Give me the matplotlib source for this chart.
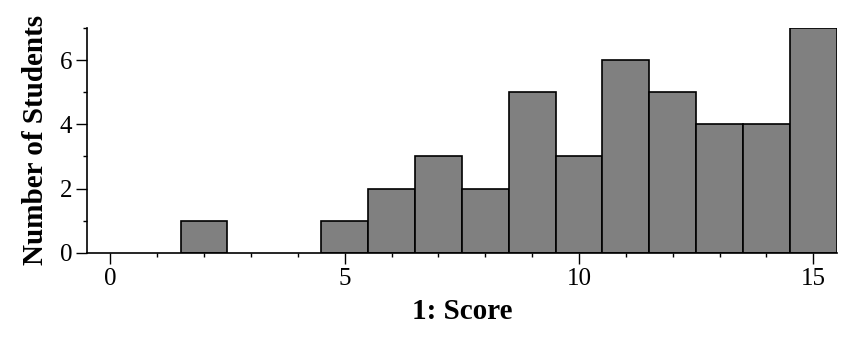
import matplotlib
matplotlib.use("Agg")
import matplotlib.pyplot as plt
from matplotlib.ticker import MultipleLocator

scores = list(range(16))
counts = [0, 0, 1, 0, 0, 1, 2, 3, 2, 5, 3, 6, 5, 4, 4, 7]
x_ticks = [0, 5, 10, 15]
y_ticks = [0, 2, 4, 6]

plt.rcParams['font.family'] = ['Liberation Serif', 'DejaVu Serif']

fig = plt.figure(figsize=(8.6, 3.4), dpi=100)
ax = fig.add_axes([0.101, 0.256, 0.872, 0.662])

xs = [s for s, c in zip(scores, counts) if c > 0]
hs = [c for c in counts if c > 0]
ax.bar(xs, hs, width=1.0, color='#808080', edgecolor='black', linewidth=1.2, zorder=2)

ax.set_xlim(-0.5, 15.5)
ax.set_ylim(0, 7)
for s in ['top', 'right']:
    ax.spines[s].set_visible(False)
for s in ['left', 'bottom']:
    ax.spines[s].set_linewidth(1.2)
    ax.spines[s].set_zorder(3)

ax.set_xticks(x_ticks)
ax.set_yticks(y_ticks)
ax.xaxis.set_minor_locator(MultipleLocator(1))
ax.yaxis.set_minor_locator(MultipleLocator(1))
ax.tick_params(which='major', length=8, width=1.0, labelsize=18, direction='out', pad=2.5)
ax.tick_params(which='minor', length=3, width=1.0, direction='out')

ax.set_xlabel('1: Score', fontsize=21, fontweight='bold', labelpad=6)
ax.set_ylabel('Number of Students', fontsize=21, fontweight='bold', labelpad=8)

fig.savefig('out.png', dpi=100)
